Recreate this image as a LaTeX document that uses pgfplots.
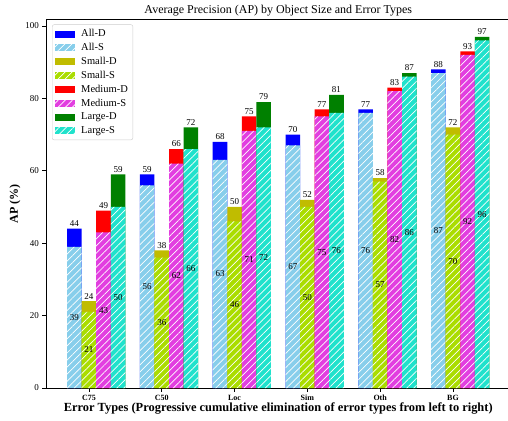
\documentclass[border=0pt]{standalone}
\usepackage{pgfplots}
\pgfplotsset{compat=1.18}
\usepackage{pgfplotstable}
\usetikzlibrary{patterns.meta}
\usepackage{fontspec}
\setmainfont{Liberation Serif}

\definecolor{allD}{RGB}{0,0,255}
\definecolor{allS}{RGB}{135,206,235}
\definecolor{smD}{RGB}{192,188,0}
\definecolor{smS}{RGB}{170,221,0}
\definecolor{medD}{RGB}{255,0,0}
\definecolor{medS}{RGB}{226,62,224}
\definecolor{lgD}{RGB}{0,128,0}
\definecolor{lgS}{RGB}{32,226,204}

% x = error-type index, S = AP after removing (S part), T = total (S + D)
\pgfplotstableread{
x S T
0 39 44
1 56 59
2 63 68
3 67 70
4 76 77
5 87 88
}\allt
\pgfplotstableread{
x S T
0 21 24
1 36 38
2 46 50
3 50 52
4 57 58
5 70 72
}\smallt
\pgfplotstableread{
x S T
0 43 49
1 62 66
2 71 75
3 75 77
4 82 83
5 92 93
}\medt
\pgfplotstableread{
x S T
0 50 59
1 66 72
2 72 79
3 76 81
4 86 87
5 96 97
}\larget

\tikzset{hatch/.style={postaction={pattern={Lines[angle=45,distance=5pt,line width=0.7pt]}, pattern color=white}}}
\pgfplotsset{
  dbar/.style={ybar, bar width=0.2, bar shift=#1, draw=none},
  sbar/.style={ybar, bar width=0.2, bar shift=#1, draw=none, hatch},
  inlab/.style={draw=none, mark=none, forget plot, nodes near coords, point meta=explicit,
    every node near coord/.append style={font=\fontsize{9}{10}\selectfont, anchor=center, inner sep=0pt}},
  toplab/.style={draw=none, mark=none, forget plot, nodes near coords, point meta=explicit,
    every node near coord/.append style={font=\fontsize{9}{10}\selectfont, anchor=south, inner sep=1.8pt}},
}

\begin{document}
\begin{tikzpicture}[x=1pt,y=1pt]
\begin{axis}[
  at={(46pt,32pt)}, anchor=south west,
  scale only axis, width=464.5pt, height=368.7pt,
  xmin=-0.59, xmax=5.79, ymin=0, ymax=101.85,
  xtick={0,...,5}, xticklabels={C75,C50,Loc,Sim,Oth,BG},
  ytick={0,20,...,100},
  tick align=outside, tick pos=left,
  major tick length=3.5pt,
  axis line style={line width=0.6pt, black},
  every tick/.style={black, line width=0.6pt},
  x tick label style={font=\bfseries\fontsize{8}{9}\selectfont},
  y tick label style={font=\fontsize{9}{10}\selectfont},
  /pgf/number format/assume math mode=true,
  every axis title shift=0pt,
  title={Average Precision (AP) by Object Size and Error Types},
  title style={at={(axis description cs:0.5,1.0244)}, anchor=center, yshift=0pt, font=\fontsize{12}{13}\selectfont},
  xlabel={Error Types (Progressive cumulative elimination of error types from left to right)},
  xlabel style={at={(axis description cs:0.5,-0.0545)}, anchor=center, yshift=0pt, font=\bfseries\fontsize{12.4}{13}\selectfont},
  ylabel={AP (\%)},
  ylabel style={at={(axis description cs:-0.0667,0.5)}, anchor=center, font=\bfseries\fontsize{12}{13}\selectfont},
  legend style={at={(axis description cs:0.013,0.986)}, anchor=north west, draw=black!20, rounded corners=2pt,
    font=\fontsize{10.5}{11}\selectfont, row sep=1.1pt, inner xsep=3pt, inner ysep=3pt},
  legend cell align=left,
  legend image code/.code={\path[sharp corners,#1] (0pt,-3.5pt) rectangle (20pt,3.5pt); \path (24pt,0pt);},
]
\addplot[dbar=-0.2, fill=allD] table[x=x,y=T]{\allt};
\addlegendentry{All-D}
\addplot[sbar=-0.2, fill=allS] table[x=x,y=S]{\allt};
\addlegendentry{All-S}
\addplot[dbar=0, fill=smD] table[x=x,y=T]{\smallt};
\addlegendentry{Small-D}
\addplot[sbar=0, fill=smS] table[x=x,y=S]{\smallt};
\addlegendentry{Small-S}
\addplot[dbar=0.2, fill=medD] table[x=x,y=T]{\medt};
\addlegendentry{Medium-D}
\addplot[sbar=0.2, fill=medS] table[x=x,y=S]{\medt};
\addlegendentry{Medium-S}
\addplot[dbar=0.4, fill=lgD] table[x=x,y=T]{\larget};
\addlegendentry{Large-D}
\addplot[sbar=0.4, fill=lgS] table[x=x,y=S]{\larget};
\addlegendentry{Large-S}

\addplot[inlab] table[x expr=\thisrow{x}-0.2, y expr=\thisrow{S}/2, meta=S]{\allt};
\addplot[inlab] table[x expr=\thisrow{x}, y expr=\thisrow{S}/2, meta=S]{\smallt};
\addplot[inlab] table[x expr=\thisrow{x}+0.2, y expr=\thisrow{S}/2, meta=S]{\medt};
\addplot[inlab] table[x expr=\thisrow{x}+0.4, y expr=\thisrow{S}/2, meta=S]{\larget};

\addplot[toplab] table[x expr=\thisrow{x}-0.2, y=T, meta=T]{\allt};
\addplot[toplab] table[x expr=\thisrow{x}, y=T, meta=T]{\smallt};
\addplot[toplab] table[x expr=\thisrow{x}+0.2, y=T, meta=T]{\medt};
\addplot[toplab] table[x expr=\thisrow{x}+0.4, y=T, meta=T]{\larget};
\end{axis}
\pgfresetboundingbox
\path[use as bounding box] (0pt,0pt) rectangle (508pt,420pt);
\end{tikzpicture}
\end{document}
